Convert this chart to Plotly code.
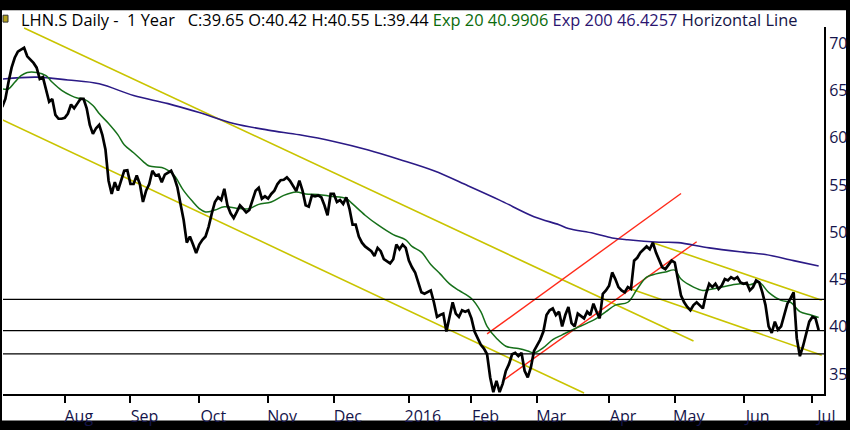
import pandas as pd
import plotly.graph_objects as go

# trading day number (0 = 2015-07-06)
price_day = [0, 1, 2, 3, 4, 5, 6, 7, 8, 10, 11, 12, 13, 14, 15, 16, 17, 18, 19, 20,
             21, 22, 23, 24, 25, 26, 27, 28, 29, 30, 31, 32, 33, 34, 35, 36, 37, 38, 39, 40,
             41, 42, 43, 44, 45, 46, 47, 48, 49, 50, 51, 52, 54, 55, 56, 57, 58, 59, 60, 61,
             62, 63, 64, 65, 66, 67, 68, 69, 70, 71, 72, 73, 74, 75, 76, 77, 78, 79, 80, 81,
             82, 83, 84, 85, 86, 87, 88, 89, 90, 91, 92, 93, 94, 95, 96, 97, 98, 99, 100, 101,
             102, 103, 104, 105, 106, 107, 108, 109, 110, 111, 112, 113, 114, 115, 116, 118, 119, 120, 121, 122,
             124, 125, 126, 127, 128, 129, 130, 131, 132, 133, 134, 135, 136, 137, 138, 139, 140, 141, 142, 143,
             144, 145, 146, 147, 148, 149, 150, 151, 152, 153, 154, 155, 156, 157, 158, 159, 160, 161, 162, 163,
             164, 165, 166, 167, 168, 169, 170, 171, 172, 173, 174, 175, 176, 177, 178, 179, 180, 181, 182, 183,
             184, 186, 187, 188, 189, 190, 191, 192, 193, 194, 195, 196, 197, 198, 199, 200, 201, 202, 203, 204,
             205, 206, 207, 208, 209, 210, 211, 212, 213, 214, 215, 216, 217, 218, 219, 220, 221, 222, 223, 224,
             225, 226, 227, 228, 229, 230, 231, 232, 233, 234, 235, 236, 237, 238, 239, 240, 241, 242, 243, 244,
             245, 246, 247, 248, 249, 250, 251, 252, 253, 254, 255, 256, 257, 258, 259, 260, 261]
price_close = [63.25, 64.1, 65.85, 67.4, 68.45, 69.1, 69.3, 69.5, 68.6, 67.9, 67.4, 66.2, 66.4, 65.15, 63.8, 64.1, 62.4, 62.0, 62.0, 62.1,
               62.55, 63.5, 63.1, 63.6, 64.1, 64.1, 63.1, 61.35, 60.4, 61.0, 61.35, 60.3, 58.75, 55.45, 54.05, 55.3, 54.4, 55.45, 56.5, 56.55,
               55.1, 55.1, 56.0, 55.1, 53.2, 54.4, 55.1, 56.5, 56.0, 56.1, 55.3, 56.1, 56.5, 55.8, 54.75, 53.0, 51.3, 48.9, 49.55, 48.7,
               47.8, 48.7, 49.2, 49.55, 50.6, 52.0, 53.2, 53.7, 53.4, 54.6, 52.85, 52.0, 51.5, 52.15, 52.85, 52.5, 52.1, 52.35, 53.4, 54.4,
               54.7, 53.55, 53.8, 53.55, 54.05, 54.4, 55.1, 55.5, 55.55, 55.8, 55.45, 54.9, 54.35, 55.45, 54.4, 52.85, 52.7, 53.9, 53.8, 53.9,
               53.7, 52.85, 51.8, 54.05, 54.05, 53.2, 53.4, 53.0, 53.7, 52.5, 50.8, 50.8, 49.55, 48.9, 48.5, 48.0, 47.5, 48.35, 48.0, 47.15,
               46.7, 47.15, 48.7, 48.2, 48.7, 48.35, 47.0, 46.3, 45.75, 44.7, 43.65, 43.5, 43.65, 43.85, 42.6, 41.05, 41.25, 41.4, 39.5, 40.9,
               42.6, 41.4, 41.05, 41.75, 41.6, 41.75, 40.9, 39.5, 38.8, 38.1, 37.7, 37.1, 34.65, 33.1, 34.3, 33.1, 34.0, 35.35, 36.05, 37.1,
               37.25, 36.9, 37.25, 35.35, 34.65, 35.7, 37.45, 38.1, 38.65, 39.5, 41.25, 41.75, 41.95, 41.25, 41.6, 40.05, 41.25, 42.1, 40.4, 40.05,
               41.4, 40.9, 41.6, 41.25, 42.45, 41.6, 40.9, 43.5, 43.85, 44.35, 45.75, 45.05, 44.2, 43.85, 43.65, 44.2, 44.0, 47.0, 47.3, 47.85,
               48.2, 48.5, 48.2, 48.9, 47.85, 47.0, 46.3, 46.1, 46.6, 47.0, 46.8, 45.05, 43.3, 42.6, 42.1, 41.75, 42.3, 42.6, 42.3, 41.95,
               43.5, 44.55, 44.2, 44.55, 44.0, 44.35, 45.05, 44.9, 45.25, 45.05, 45.25, 44.7, 44.55, 44.65, 43.85, 44.2, 44.9, 44.7, 43.65, 42.3,
               40.05, 39.35, 40.55, 39.7, 40.05, 41.25, 42.45, 43.0, 43.65, 38.8, 36.9, 37.95, 39.35, 40.55, 41.05, 40.9, 39.65]

ema20_day = [0, 2, 4, 6, 8, 11, 14, 16, 19, 22, 24, 26, 29, 31, 34, 37, 39, 42, 45, 47,
             51, 53, 55, 58, 61, 63, 65, 68, 71, 76, 79, 82, 86, 90, 94, 97, 101, 105, 110, 112,
             116, 120, 125, 129, 131, 134, 137, 140, 143, 146, 150, 153, 155, 158, 161, 165, 168, 170, 173, 176,
             179, 183, 187, 190, 193, 196, 200, 203, 206, 209, 212, 215, 217, 221, 224, 227, 232, 236, 239, 242,
             245, 249, 252, 255, 258, 261]
ema20_val = [65.15, 65.15, 65.85, 66.55, 66.9, 66.9, 66.55, 65.85, 65.0, 64.45, 64.2, 64.1, 63.4, 62.55, 61.5, 60.3, 59.25, 58.4, 57.5, 57.0,
             56.85, 56.55, 56.0, 54.4, 53.2, 52.5, 52.15, 52.35, 52.7, 52.5, 52.5, 52.95, 53.2, 53.9, 54.25, 54.05, 54.0, 53.8, 53.55, 53.0,
             51.8, 50.8, 49.75, 49.2, 48.5, 47.9, 46.6, 45.6, 44.55, 43.85, 43.0, 41.6, 40.05, 38.8, 37.95, 37.7, 37.45, 37.25, 37.8, 38.65,
             39.15, 39.8, 40.4, 40.9, 41.6, 42.3, 42.6, 44.0, 45.25, 45.6, 45.8, 46.0, 45.05, 44.2, 43.85, 44.0, 44.35, 44.55, 44.45, 44.7,
             43.65, 42.8, 42.6, 41.6, 41.3, 40.99]

ema200_day = [0, 11, 21, 31, 42, 53, 63, 74, 85, 95, 106, 117, 127, 138, 149, 159, 170, 178, 181, 189,
              195, 200, 210, 216, 226, 237, 244, 253, 261]
ema200_val = [66.2, 66.4, 66.1, 65.7, 64.45, 63.6, 62.65, 61.5, 60.8, 60.3, 59.6, 58.7, 57.7, 56.5, 54.9, 53.4, 51.65, 50.8, 50.4, 49.9,
              49.4, 49.2, 48.95, 48.9, 48.35, 47.9, 47.65, 47.0, 46.43]

# drawn trend lines (start, end)
chan_upper_day = [7, 221]
chan_upper_val = [71.6, 38.5]
chan_lower_day = [0, 186]
chan_lower_val = [61.9, 33.0]
chan2_upper_day = [208, 262]
chan2_upper_val = [48.9, 42.8]
chan2_lower_day = [201, 262]
chan2_lower_val = [44.0, 37.0]
red_a_day = [155, 217]
red_a_val = [39.25, 54.1]
red_b_day = [160, 222]
red_b_val = [34.3, 49.0]
hlines = [42.9, 39.6, 37.15]

month_ticks = ["2015-08-03", "2015-09-01", "2015-10-01", "2015-11-02", "2015-12-01", "2016-01-04",
               "2016-02-01", "2016-03-01", "2016-04-01", "2016-05-02", "2016-06-01", "2016-07-01"]
month_labels = ["Aug", "Sep", "Oct", "Nov", "Dec", "2016", "Feb", "Mar", "Apr", "May", "Jun", "Jul"]
y_ticks = [35, 40, 45, 50, 55, 60, 65, 70]

sessions = pd.bdate_range("2015-07-06", periods=263)


def d(days):
    return [sessions[i] for i in days]


W, H = 850, 430
ML, MR, MT, MB = 3, 26, 27, 30
PW, PH = W - ML - MR, H - MT - MB


def px(p):
    return (p - ML) / PW


def py(q):
    return (H - MB - q) / PH


fig = go.Figure()

yellow = "#c9c400"
for days, vals in [(chan_upper_day, chan_upper_val), (chan_lower_day, chan_lower_val),
                   (chan2_upper_day, chan2_upper_val), (chan2_lower_day, chan2_lower_val)]:
    fig.add_trace(go.Scatter(x=d(days), y=vals, mode="lines", line=dict(color=yellow, width=1.6)))

for days, vals in [(red_a_day, red_a_val), (red_b_day, red_b_val)]:
    fig.add_trace(go.Scatter(x=d(days), y=vals, mode="lines", line=dict(color="#ff2a1a", width=1.4)))

for v in hlines:
    fig.add_hline(y=v, line_color="black", line_width=1.3)

fig.add_trace(go.Scatter(x=d(ema200_day), y=ema200_val, mode="lines", line_shape="spline",
                         line=dict(color="#2b1a86", width=1.6)))
fig.add_trace(go.Scatter(x=d(ema20_day), y=ema20_val, mode="lines", line_shape="spline",
                         line=dict(color="#16701a", width=1.5)))
fig.add_trace(go.Scatter(x=d(price_day), y=price_close, mode="lines",
                         line=dict(color="black", width=2.7)))

title = ("LHN.S Daily -&nbsp; 1 Year&nbsp;&nbsp; C:39.65 O:40.42 H:40.55 L:39.44 "
         "<span style='color:#0b6b0b'>Exp 20 40.9906</span> "
         "<span style='color:#2b1470'>Exp 200 46.4257</span> "
         "<span style='color:#141446'>Horizontal Line</span>")
fig.add_annotation(text=title, xref="paper", yref="paper", x=px(19), y=py(19),
                   xanchor="left", yanchor="middle", showarrow=False,
                   font=dict(family="Open Sans", size=16.4, color="black"))

fig.add_shape(type="rect", xref="paper", yref="paper", x0=px(2), x1=px(846), y0=py(427), y1=py(10),
              fillcolor="white", line_width=0, layer="below")
fig.add_shape(type="rect", xref="paper", yref="paper", x0=px(3), x1=px(8), y0=py(22), y1=py(15),
              fillcolor="#b5a21a", line=dict(color="#333333", width=1))

fig.update_layout(
    width=W, height=H,
    margin=dict(l=ML, r=MR, t=MT, b=MB),
    paper_bgcolor="black",
    plot_bgcolor="white",
    showlegend=False,
    font=dict(family="Open Sans", size=16, color="#14144a"),
)
fig.update_xaxes(
    type="date",
    range=["2015-07-06 06:00", "2016-07-06 17:00"],
    rangebreaks=[dict(bounds=["sat", "mon"])],
    tickvals=month_ticks, ticktext=month_labels,
    ticks="outside", ticklen=7, tickwidth=1.5, tickcolor="black",
    ticklabelshift=14,
    showline=True, linecolor="black", linewidth=2,
    showgrid=False, zeroline=False,
)
fig.update_yaxes(
    side="right",
    range=[32.9, 71.7],
    tickvals=y_ticks,
    ticks="", ticklen=0, showline=True, linecolor="black", linewidth=2,
    showgrid=False, zeroline=False,
)

# the page body has a default margin; drop it so the figure sits at the window corner
fig.write_html("out.html", config={"displayModeBar": False},
               post_script="document.body.style.margin='0';")
